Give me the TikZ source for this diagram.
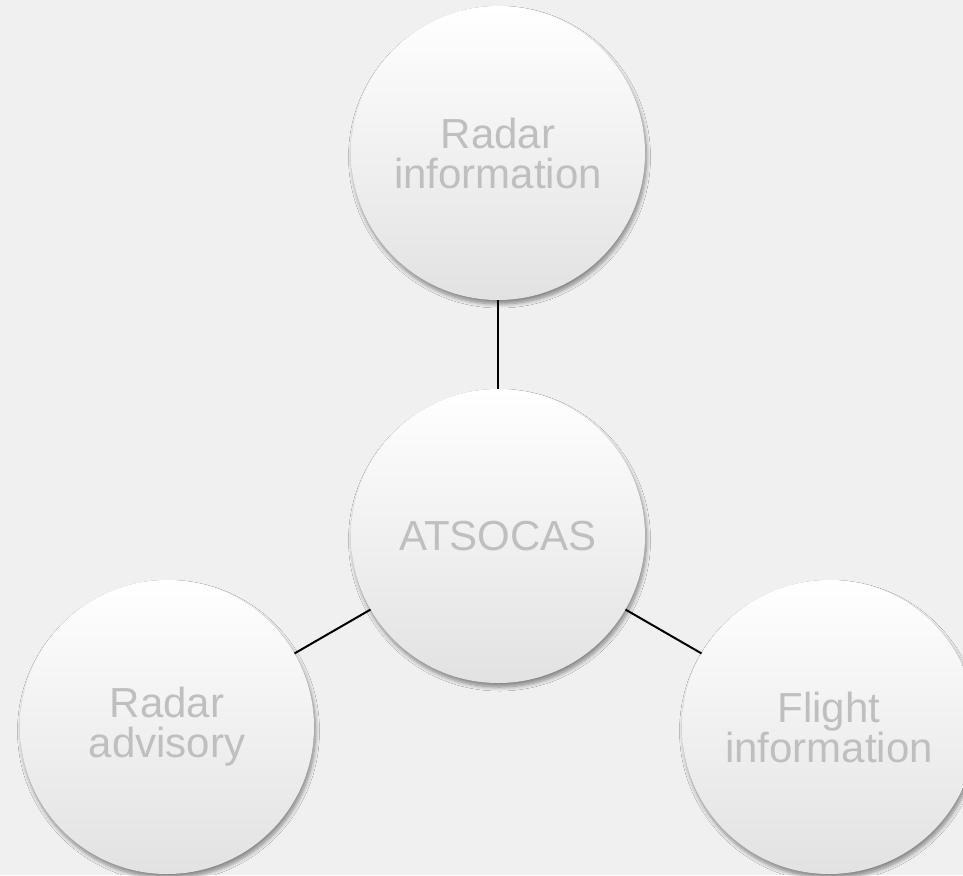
\documentclass[tikz,border=0pt]{standalone}
\usepackage{fontspec}
\setmainfont{Liberation Sans}
\usetikzlibrary{shadows.blur}
\definecolor{bg}{HTML}{F0F0F0}
\definecolor{txt}{HTML}{BFBFBF}
\definecolor{shadebot}{HTML}{E2E2E2}
\tikzset{
  bubble/.style={circle, minimum size=294pt, inner sep=0pt,
    top color=white, middle color=white, bottom color=shadebot,
    blur shadow={shadow xshift=1.5pt, shadow yshift=-4pt, shadow blur radius=4pt, shadow blur steps=8, shadow opacity=45},
    text=txt, align=center, font=\fontsize{42}{40}\selectfont},
  link/.style={draw=black, line width=2pt}
}
\begin{document}
\begin{tikzpicture}[x=1pt,y=-1pt]
\fill[bg] (0,0) rectangle (963,875);
\useasboundingbox (0,0) rectangle (963,875);
\begin{scope}
\clip (0,0) rectangle (963,875);
\node[bubble] (c) at (498,536) {ATSOCAS};
\node[bubble] (t) at (498,153) {Radar\\information};
\node[bubble] (l) at (167,727) {Radar\\advisory};
\node[bubble] (r) at (829,727) {Flight\\information};
\draw[link] (c) -- (t);
\draw[link] (c) -- (l);
\draw[link] (c) -- (r);
\end{scope}
\end{tikzpicture}
\end{document}
